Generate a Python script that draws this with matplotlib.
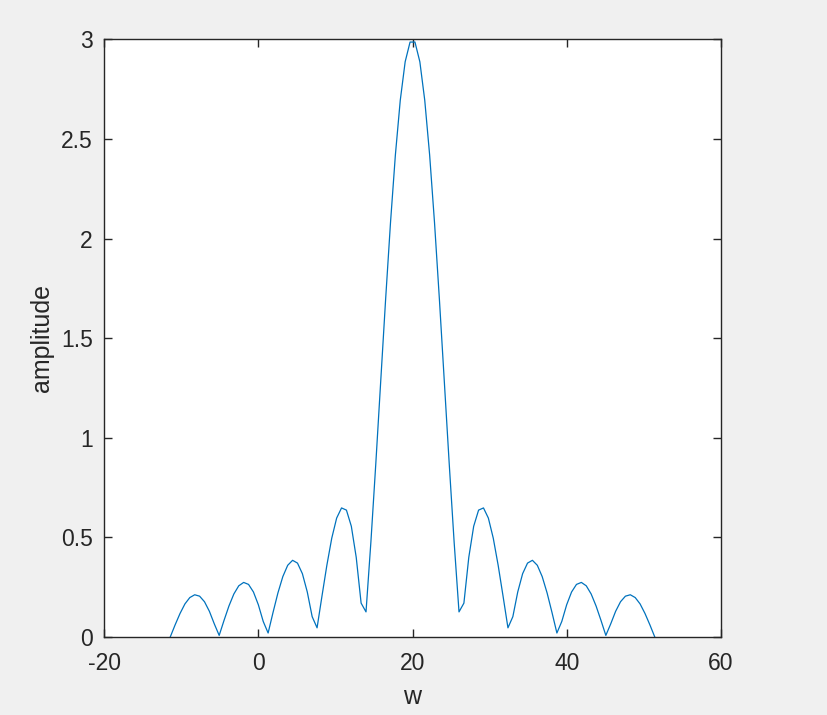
import numpy as np
import matplotlib
matplotlib.use('Agg')
import matplotlib.pyplot as plt

# sample grid of the curve (100 points, -11.42 .. 51.42)
w = np.linspace(-11.416, 51.416, 100)

# amplitude, left half then right half
amp_left = [0.000, 0.061, 0.118, 0.166, 0.198, 0.212, 0.205, 0.177, 0.129, 0.066,
            0.008, 0.084, 0.156, 0.216, 0.257, 0.274, 0.264, 0.226, 0.162, 0.078,
            0.020, 0.123, 0.221, 0.303, 0.360, 0.385, 0.371, 0.318, 0.226, 0.102,
            0.046, 0.205, 0.360, 0.496, 0.597, 0.648, 0.637, 0.556, 0.400, 0.170,
            0.126, 0.478, 0.870, 1.282, 1.693, 2.079, 2.420, 2.695, 2.888, 2.987]
amp_right = [2.987, 2.888, 2.695, 2.420, 2.079, 1.693, 1.282, 0.870, 0.478, 0.126,
             0.170, 0.400, 0.556, 0.637, 0.648, 0.597, 0.496, 0.360, 0.205, 0.046,
             0.102, 0.226, 0.318, 0.371, 0.385, 0.360, 0.303, 0.221, 0.123, 0.020,
             0.078, 0.162, 0.226, 0.264, 0.274, 0.257, 0.216, 0.156, 0.084, 0.008,
             0.066, 0.129, 0.177, 0.205, 0.212, 0.198, 0.166, 0.118, 0.061, 0.000]
amp = amp_left + amp_right

xticks = [-20, 0, 20, 40, 60]
xtick_labels = ['-20', '0', '20', '40', '60']
yticks = [0, 0.5, 1, 1.5, 2, 2.5, 3]
ytick_labels = ['0', '0.5', '1', '1.5', '2', '2.5', '3']

plt.rcParams['font.family'] = ['Liberation Sans', 'DejaVu Sans']

fig = plt.figure(figsize=(8.27, 7.15), dpi=100, facecolor='#f0f0f0')
ax = fig.add_axes([0.1258, 0.1091, 0.7460, 0.8357])
ax.set_facecolor('white')

ax.plot(w, amp, color='#0072BD', linewidth=0.9)

ax.set_xlim(-20, 60)
ax.set_ylim(0, 3)
ax.set_xticks(xticks)
ax.set_xticklabels(xtick_labels)
ax.set_yticks(yticks)
ax.set_yticklabels(ytick_labels)

for sp in ax.spines.values():
    sp.set_color('#262626')
    sp.set_linewidth(1.0)
ax.tick_params(direction='in', length=6, width=1.0, color='#262626',
               labelcolor='#262626', labelsize=16.5, top=True, right=True)
ax.tick_params(axis='x', pad=11)
ax.tick_params(axis='y', pad=8)

ax.set_xlabel('w', fontsize=18, color='#262626', labelpad=7)
ax.set_ylabel('amplitude', fontsize=18, color='#262626', labelpad=5)

fig.savefig('out.png', dpi=100, facecolor=fig.get_facecolor())
